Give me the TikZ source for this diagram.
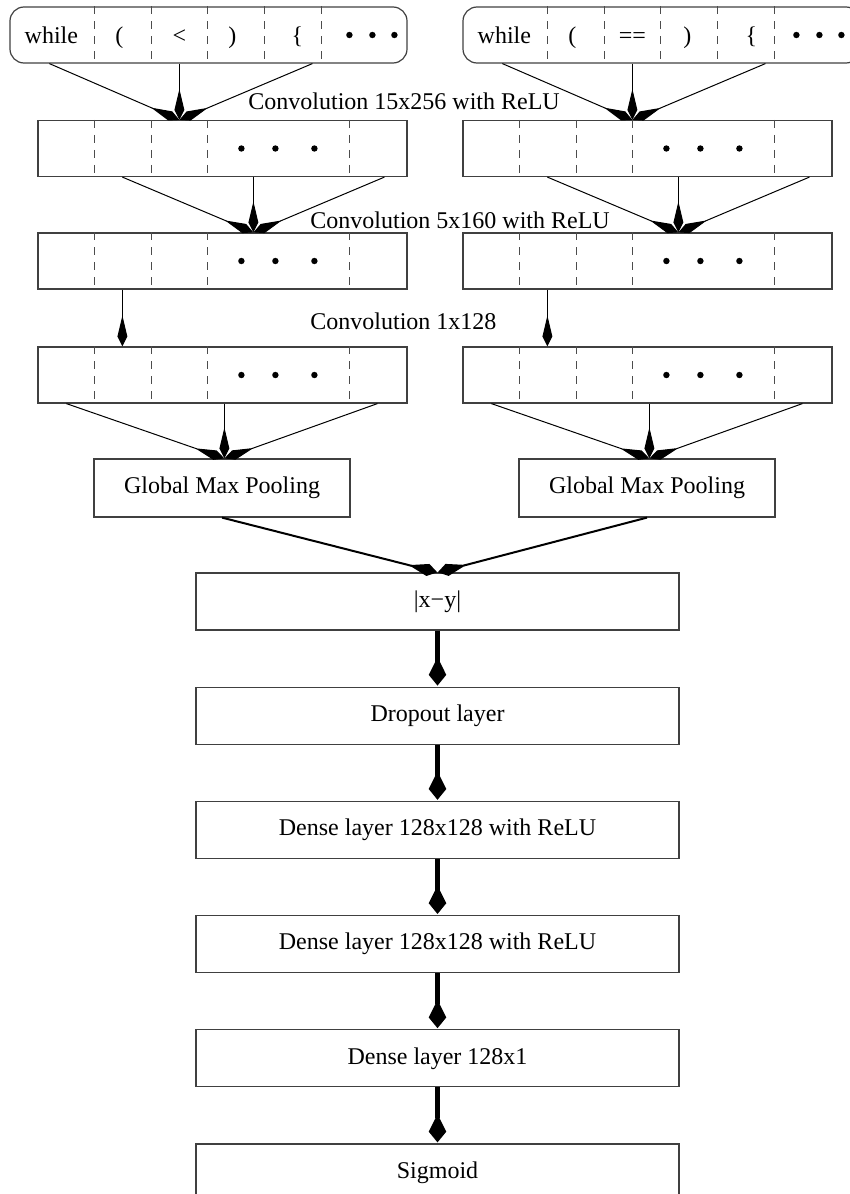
\documentclass[tikz,border=0pt]{standalone}
\usepackage{fontspec}
\setmainfont{Liberation Serif}
\usetikzlibrary{arrows.meta,calc,positioning}

\begin{document}
\begin{tikzpicture}[x=0.5pt, y=-0.5pt,
  font=\fontsize{12}{14}\selectfont,
  frame/.style={draw=black!75, line width=0.6pt, inner sep=0pt, minimum height=28pt},
  tokrow/.style={frame, rounded corners=7pt, minimum width=198.5pt},
  featrow/.style={frame, minimum width=184.5pt},
  poolbox/.style={frame, minimum width=128pt, minimum height=29pt},
  stackbox/.style={frame, minimum width=241.5pt, minimum height=28.5pt},
  divider/.style={draw=black!70, line width=0.5pt, dash pattern=on 4pt off 3.5pt},
  convarrow/.style={line width=0.5pt, -{Stealth[length=5pt, width=4.6pt, inset=-10.5pt]}},
  poolarrow/.style={line width=1pt, -{Stealth[length=5pt, width=5.5pt, inset=-10pt]}},
  stackarrow/.style={line width=2.5pt, -{Stealth[length=6pt, width=7pt, inset=-9.5pt]}}]
  \useasboundingbox (0,0) rectangle (850,1194);

  % Token rows
  \node[tokrow] (tokL) at (208.5,35) {};
  \node[tokrow] (tokR) at (661.5,35) {};
  \foreach \b in {tokL,tokR}
    \foreach \dx in {85,142,198,255,312}
      \draw[divider] ($(\b.north west)+(\dx,0)$) -- ($(\b.south west)+(\dx,0)$);
  \foreach \dx/\t [count=\i] in {42/while, 110/{(}, 170/{<}, 223/{)}, 288/{\{}}
    \node[anchor=base] (wordL\i) at ($(tokL.west)+(\dx,8)$) {\t};
  \foreach \dx/\t [count=\i] in {42/while, 110/{(}, 170/{==}, 225/{)}, 289/{\{}}
    \node[anchor=base] (wordR\i) at ($(tokR.west)+(\dx,8)$) {\t};
  \foreach \dx in {340,363,385}
    \fill ($(tokL.west)+(\dx,0)$) circle (1.6pt);
  \foreach \dx in {334,357,379}
    \fill ($(tokR.west)+(\dx,0)$) circle (1.6pt);

  % Feature maps
  \node[featrow] (c1L) at (222.5,148.5) {};
  \node[featrow] (c1R) at (647.5,148.5) {};
  \node[featrow] (c2L) at (222.5,261) {};
  \node[featrow] (c2R) at (647.5,261) {};
  \node[featrow] (c3L) at (222.5,375) {};
  \node[featrow] (c3R) at (647.5,375) {};
  \foreach \b in {c1L,c1R,c2L,c2R,c3L,c3R} {
    \foreach \dx in {57,114,170,312}
      \draw[divider] ($(\b.north west)+(\dx,0)$) -- ($(\b.south west)+(\dx,0)$);
    \foreach \dx in {204,238,277}
      \fill ($(\b.west)+(\dx,0)$) circle (1.6pt);
  }

  % Convolution labels
  \node[anchor=base west, inner sep=0pt] (convA) at (248,109) {Convolution 15x256 with ReLU};
  \node[anchor=base west, inner sep=0pt] (convB) at (310,228) {Convolution 5x160 with ReLU};
  \node[anchor=base west, inner sep=0pt] (convC) at (310,329) {Convolution 1x128};

  % Pooling
  \node[poolbox] (poolL) at (222,488) {Global Max Pooling};
  \node[poolbox] (poolR) at (647,488) {Global Max Pooling};

  % Shared stack
  \node[stackbox] (diff) at (437.5,601.5) {|x−y|};
  \node[stackbox, below=28pt of diff] (drop) {Dropout layer};
  \node[stackbox, below=28pt of drop] (dense1) {Dense layer 128x128 with ReLU};
  \node[stackbox, below=28pt of dense1] (dense2) {Dense layer 128x128 with ReLU};
  \node[stackbox, below=28pt of dense2] (dense3) {Dense layer 128x1};
  \node[stackbox, below=28pt of dense3] (sig) {Sigmoid};

  % Convolution arrows
  \foreach \dx in {40,170,303} {
    \draw[convarrow] ($(tokL.south west)+(\dx,0)$) -- ($(c1L.north west)+(142,0)$);
    \draw[convarrow] ($(tokR.south west)+(\dx,0)$) -- ($(c1R.north west)+(170,0)$);
  }
  \foreach \b/\n in {c1L/c2L, c1R/c2R}
    \foreach \dx in {85,216,347}
      \draw[convarrow] ($(\b.south west)+(\dx,0)$) -- ($(\n.north west)+(216,0)$);
  \foreach \b/\n in {c2L/c3L, c2R/c3R}
    \draw[convarrow] ($(\b.south west)+(85,0)$) -- ($(\n.north west)+(85,0)$);
  \foreach \b/\n in {c3L/poolL, c3R/poolR}
    \foreach \dx in {29,187,340}
      \draw[convarrow] ($(\b.south west)+(\dx,0)$) -- ($(\n.north west)+(131,0)$);

  % Merge and dense arrows
  \draw[poolarrow] (poolL.south) -- (diff.north);
  \draw[poolarrow] (poolR.south) -- (diff.north);
  \draw[stackarrow] (diff.south) -- (drop.north);
  \draw[stackarrow] (drop.south) -- (dense1.north);
  \draw[stackarrow] (dense1.south) -- (dense2.north);
  \draw[stackarrow] (dense2.south) -- (dense3.north);
  \draw[stackarrow] (dense3.south) -- (sig.north);
\end{tikzpicture}
\end{document}
